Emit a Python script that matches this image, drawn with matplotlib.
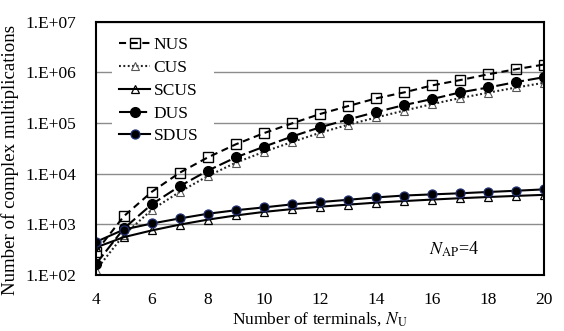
import numpy as np
import matplotlib
matplotlib.use('Agg')
import matplotlib.pyplot as plt

plt.rcParams['font.family'] = ['Liberation Serif', 'DejaVu Serif']
plt.rcParams['mathtext.fontset'] = 'stix'

# number of terminals
n_users = [4, 5, 6, 7, 8, 9, 10, 11, 12, 13, 14, 15, 16, 17, 18, 19, 20]

# complex multiplications per scheme
nus = [288, 1450, 4400, 10500, 21000, 38000, 63000, 98000, 150000, 215000,
       305000, 400000, 550000, 700000, 910000, 1150000, 1420000]
cus = [125, 620, 1950, 4400, 9000, 16500, 27000, 42000, 64000, 92000,
       128000, 175000, 235000, 310000, 395000, 500000, 620000]
scus = [350, 560, 760, 990, 1240, 1500, 1760, 2000, 2230, 2450,
        2680, 2880, 3080, 3280, 3460, 3640, 3820]
dus = [165, 830, 2500, 5700, 11500, 21000, 34000, 54000, 82000, 117000,
       164000, 225000, 296000, 400000, 500000, 640000, 800000]
sdus = [450, 790, 1040, 1310, 1620, 1900, 2160, 2480, 2750, 3050,
        3400, 3700, 3900, 4100, 4350, 4600, 4900]

y_ticks = [1e2, 1e3, 1e4, 1e5, 1e6, 1e7]
y_tick_labels = ['1.E+02', '1.E+03', '1.E+04', '1.E+05', '1.E+06', '1.E+07']
x_ticks = [4, 6, 8, 10, 12, 14, 16, 18, 20]

fig = plt.figure(figsize=(5.64, 3.31), dpi=100)
ax = fig.add_axes([0.170, 0.169, 0.795, 0.766])

ax.plot(n_users, nus, color='black', lw=1.5, ls=(0, (3.4, 2.2)), marker='s',
        ms=7, mfc='none', mec='black', mew=1.0, label='NUS')
ax.plot(n_users, cus, color='#222222', lw=1.5, ls=(0, (0.9, 1.2)), marker='^',
        ms=6, mfc='none', mec='#555555', mew=0.8, label='CUS')
ax.plot(n_users, scus, color='black', lw=1.5, ls='-', marker='^',
        ms=6, mfc='none', mec='black', mew=0.9, label='SCUS')
ax.plot(n_users, dus, color='black', lw=1.5, ls=(0, (5.8, 1.9)), marker='o',
        ms=7, mfc='black', mec='black', label='DUS')
ax.plot(n_users, sdus, color='black', lw=1.5, ls='-', marker='o',
        ms=6.5, mfc='black', mec='#1f2f6f', mew=0.9, label='SDUS')

ax.set_yscale('log')
ax.set_ylim(1e2, 1e7)
ax.set_xlim(4, 20)
ax.set_yticks(y_ticks)
ax.set_yticklabels(y_tick_labels)
ax.minorticks_off()
ax.set_xticks(x_ticks)
ax.tick_params(axis='both', length=0, labelsize=12.5)
ax.tick_params(axis='y', pad=14)
ax.tick_params(axis='x', pad=12)

ax.yaxis.grid(True, color='#8c8c8c', lw=1.0)
ax.set_axisbelow(True)
for sp in ax.spines.values():
    sp.set_linewidth(1.5)
    sp.set_color('black')

ax.set_xlabel(r'Number of terminals, $\mathit{N}_\mathrm{U}$', fontsize=12.5, labelpad=2)
ax.set_ylabel('Number of complex multiplications', fontsize=13.6)
ax.yaxis.set_label_coords(-0.172, 0.455)

ax.text(0.80, 0.103, r'$\mathit{N}_\mathrm{AP}$=4', transform=ax.transAxes,
        ha='center', va='center', fontsize=13)

# white legend box hides the grid behind it
leg = ax.legend(loc='upper left', bbox_to_anchor=(0.036, 0.965, 0.228, 0.0),
                mode='expand', fontsize=12.5, frameon=True, fancybox=False,
                handlelength=1.8, handletextpad=0.2, labelspacing=0.38,
                borderpad=0.4, borderaxespad=0.0)
leg.get_frame().set_facecolor('white')
leg.get_frame().set_edgecolor('none')
leg.get_frame().set_alpha(1.0)

fig.savefig('out.png', dpi=100)
